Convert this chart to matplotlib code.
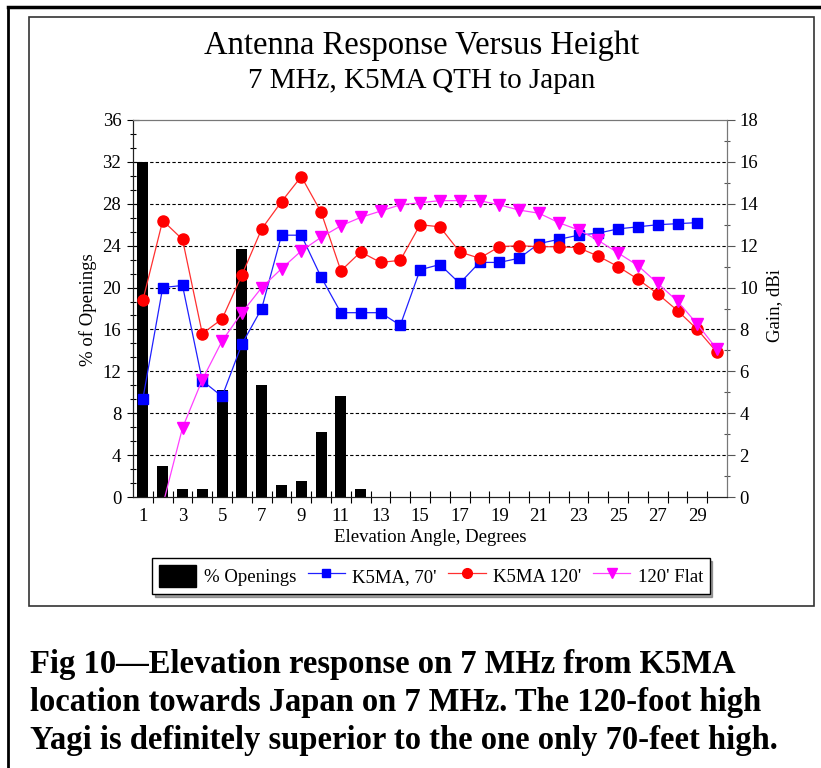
import numpy as np
import matplotlib.pyplot as plt
from matplotlib.ticker import MultipleLocator
from matplotlib.patches import Rectangle, Patch
from matplotlib.lines import Line2D

plt.rcParams['font.family'] = 'Liberation Serif'

nan = np.nan

# elevation angle, degrees
angle = np.arange(1, 31)

# % of openings (left axis)
openings = [32.0, 3.0, 0.75, 0.75, 10.2, 23.7, 10.7, 1.15, 1.55, 6.25,
            9.6, 0.75, 0, 0, 0, 0, 0, 0, 0, 0,
            0, 0, 0, 0, 0, 0, 0, 0, 0, 0]

# gain, dBi (right axis)
k5ma_70 = [4.7, 10.0, 10.1, 5.55, 4.8, 7.3, 9.0, 12.5, 12.5, 10.5,
           8.8, 8.8, 8.8, 8.2, 10.85, 11.1, 10.2, 11.2, 11.2, 11.4,
           12.1, 12.3, 12.5, 12.6, 12.8, 12.9, 13.0, 13.05, 13.1, nan]
k5ma_120 = [9.4, 13.2, 12.3, 7.8, 8.5, 10.6, 12.8, 14.1, 15.3, 13.6,
            10.8, 11.7, 11.2, 11.3, 13.0, 12.9, 11.7, 11.4, 11.95, 12.0,
            11.95, 11.95, 11.9, 11.5, 11.0, 10.4, 9.7, 8.9, 8.0, 6.9]
flat_120 = [nan, -0.4, 3.3, 5.6, 7.45, 8.8, 10.0, 10.9, 11.75, 12.4,
            12.95, 13.35, 13.65, 13.95, 14.05, 14.15, 14.15, 14.15, 13.95, 13.7,
            13.55, 13.1, 12.75, 12.25, 11.65, 11.05, 10.2, 9.35, 8.25, 7.05]

W, H = 821, 768
fig = plt.figure(figsize=(W / 100, H / 100), dpi=100)

# page frame and chart frame
fig.add_artist(Line2D([8 / W, 1], [1 - 7 / H, 1 - 7 / H], color='black', lw=2.5))
fig.add_artist(Line2D([8 / W, 8 / W], [0, 1 - 7 / H], color='black', lw=2.0))
fig.add_artist(Rectangle((29 / W, 1 - 606 / H), (814 - 29) / W, (606 - 17) / H,
                         fill=False, ec='#333333', lw=1.2, transform=fig.transFigure))

ax = fig.add_axes([133 / W, 1 - 497 / H, (727 - 133) / W, (497 - 120) / H])
ax2 = ax.twinx()

ax.bar(angle, openings, width=0.56, color='black', zorder=2)
ax.set_xlim(0.5, 30.5)
ax.set_ylim(0, 36)
ax2.set_ylim(0, 18)

for y in range(4, 36, 4):
    ax.axhline(y, color='black', lw=0.8, ls=(0, (3, 2)), zorder=1)

ax2.plot(angle, k5ma_70, color='#2020ff', lw=0.9, marker='s', ms=7,
         mfc='blue', mec='blue')
ax2.plot(angle, k5ma_120, color='#ff3030', lw=0.9, marker='o', ms=8,
         mfc='red', mec='red')
ax2.plot(angle, flat_120, color='#ff40ff', lw=0.9, marker='v', ms=8,
         mfc='magenta', mec='magenta')

# ticks
ax.set_xticks(range(1, 31, 2))
ax.set_xticks(np.arange(1.5, 30, 1), minor=True)
ax.tick_params(axis='x', which='major', length=0, labelsize=13.5, pad=8)
ax.tick_params(axis='x', which='minor', direction='inout', length=9, width=0.8)
ax.yaxis.set_major_locator(MultipleLocator(4))
ax.yaxis.set_minor_locator(MultipleLocator(4 / 3))
ax.tick_params(axis='y', which='major', direction='inout', length=9, width=0.8,
               labelsize=13.5, pad=4)
ax.tick_params(axis='y', which='minor', direction='inout', length=4, width=0.8)
ax2.yaxis.set_major_locator(MultipleLocator(2))
ax2.yaxis.set_minor_locator(MultipleLocator(1))
ax2.tick_params(axis='y', which='major', direction='out', length=6, width=0.8,
                labelsize=13.5, pad=3, color='#555555')
ax2.tick_params(axis='y', which='minor', direction='inout', length=4, width=0.8,
                color='#555555')

for a in (ax, ax2):
    a.spines['top'].set_color('#777777')
    a.spines['right'].set_color('#777777')
    a.spines['left'].set_color('#222222')
    a.spines['bottom'].set_color('#222222')

# titles and labels
fig.text(0.514, 1 - 46 / H, 'Antenna Response Versus Height', ha='center',
         va='center', fontsize=23.5)
fig.text(0.514, 1 - 81 / H, '7 MHz, K5MA QTH to Japan', ha='center',
         va='center', fontsize=21)
fig.text(88 / W, 1 - 310 / H, '% of Openings', rotation=90, ha='center',
         va='center', fontsize=13.5)
fig.text(775 / W, 1 - 305 / H, 'Gain, dBi', rotation=90, ha='center',
         va='center', fontsize=13.5)
fig.text(430 / W, 1 - 537 / H, 'Elevation Angle, Degrees', ha='center',
         va='center', fontsize=13.5)

handles = [Patch(color='black'),
           Line2D([], [], color='#2020ff', lw=0.9, marker='s', ms=6, mfc='blue', mec='blue'),
           Line2D([], [], color='#ff3030', lw=0.9, marker='o', ms=7, mfc='red', mec='red'),
           Line2D([], [], color='#ff40ff', lw=0.9, marker='v', ms=7, mfc='magenta', mec='magenta')]
labels = ['% Openings', 'K5MA, 70\'', 'K5MA 120\'', '120\' Flat']
fig.legend(handles, labels, loc='center', bbox_to_anchor=(431 / W, 1 - 576 / H),
           ncol=4, fontsize=13.5, fancybox=False, shadow=True, edgecolor='black',
           framealpha=1, handlelength=2.0, handleheight=1.5, columnspacing=0.6,
           handletextpad=0.4, borderpad=0.35)

caption = ('Fig 10\u2014Elevation response on 7 MHz from K5MA\n'
           'location towards Japan on 7 MHz. The 120-foot high\n'
           'Yagi is definitely superior to the one only 70-feet high.')
fig.text(30 / W, 1 - 649 / H, caption, ha='left', va='top', fontsize=23.5,
         fontweight='bold', linespacing=1.3)

fig.savefig('out.png', dpi=100)
